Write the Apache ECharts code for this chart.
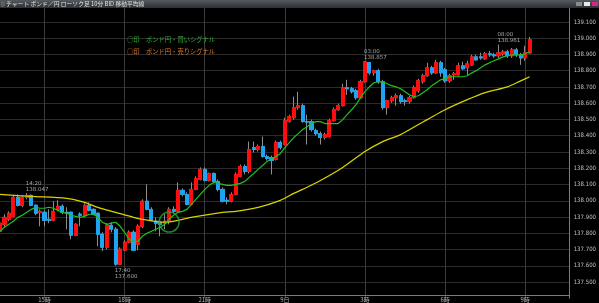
<!DOCTYPE html>
<html><head><meta charset="utf-8">
<script src="https://cdn.jsdelivr.net/npm/echarts@6/dist/echarts.min.js"></script>
<style>html,body{margin:0;padding:0;background:#000;}#c{width:599px;height:303px;}</style>
</head><body><div id="c"></div>
<script>
// ---- data ----
const titleText = 'チャート ポンド／円 ローソク足 10分 BID 移動平均線';
const buyLegend = '○印　ポンド円・買いシグナル';
const sellLegend = '○印　ポンド円・売りシグナル';

// 10-minute categories starting 13:20
const startMinute = 13 * 60 + 20;
const categoryCount = 129;
const categories = [];
for (let i = 0; i < categoryCount; i++) {
  const m = startMinute + i * 10;
  const h = Math.floor(m / 60) % 24, mm = m % 60;
  categories.push(String(h).padStart(2, '0') + ':' + String(mm).padStart(2, '0'));
}
const tickLabels = {'15:00':'15時','18:00':'18時','21:00':'21時','00:00':'9日','03:00':'3時','06:00':'6時','09:00':'9時'};
const yTicks = [137.5,137.6,137.7,137.8,137.9,138.0,138.1,138.2,138.3,138.4,138.5,138.6,138.7,138.8,138.9,139.0,139.1];

const openP = [137.812,137.855,137.886,137.904,138.021,137.972,138.021,138.033,137.972,137.929,
137.929,137.886,137.880,137.947,137.966,137.929,137.929,137.788,137.917,137.911,
137.972,137.947,137.923,137.794,137.714,137.849,137.825,137.610,137.696,137.745,
137.806,137.733,137.843,137.997,137.947,137.874,137.868,137.862,137.874,137.947,
137.935,138.064,138.039,137.978,138.070,138.131,138.193,138.125,138.168,138.119,
138.070,138.003,137.997,138.039,138.150,138.211,138.180,138.327,138.315,138.334,
138.272,138.266,138.254,138.358,138.346,138.487,138.511,138.573,138.585,138.487,
138.487,138.432,138.413,138.389,138.395,138.493,138.560,138.585,138.695,138.689,
138.677,138.634,138.732,138.850,138.787,138.800,138.732,138.573,138.616,138.634,
138.646,138.616,138.610,138.634,138.677,138.732,138.769,138.818,138.787,138.849,
138.806,138.738,138.775,138.775,138.830,138.818,138.836,138.885,138.885,138.873,
138.904,138.898,138.892,138.904,138.916,138.892,138.928,138.898,138.879,138.910];
const closeP = [137.862,137.898,137.923,138.021,137.972,138.021,138.033,137.972,137.923,137.935,
137.880,137.880,137.935,137.966,137.929,137.923,137.788,137.855,137.911,137.972,
137.941,137.917,137.794,137.714,137.849,137.825,137.610,137.702,137.745,137.806,
137.696,137.843,137.997,137.947,137.880,137.862,137.855,137.874,137.947,137.935,
138.064,138.039,137.978,138.070,138.137,138.193,138.125,138.168,138.119,138.070,
137.997,137.997,138.039,138.162,138.211,138.180,138.315,138.315,138.334,138.272,
138.260,138.248,138.358,138.327,138.493,138.518,138.573,138.585,138.487,138.484,
138.438,138.413,138.389,138.407,138.493,138.560,138.585,138.695,138.689,138.671,
138.634,138.732,138.855,138.787,138.800,138.732,138.573,138.616,138.634,138.646,
138.610,138.610,138.634,138.695,138.738,138.769,138.818,138.787,138.849,138.787,
138.738,138.769,138.781,138.830,138.812,138.842,138.885,138.867,138.879,138.904,
138.898,138.892,138.910,138.916,138.892,138.928,138.898,138.879,138.910,138.990];
const lowP = [137.788,137.837,137.874,137.898,137.966,137.960,138.009,137.966,137.911,137.843,
137.843,137.862,137.874,137.935,137.917,137.825,137.763,137.782,137.843,137.898,
137.935,137.911,137.720,137.690,137.702,137.806,137.600,137.604,137.690,137.739,
137.690,137.696,137.831,137.941,137.874,137.812,137.782,137.825,137.855,137.923,
137.923,138.027,137.972,137.972,138.064,138.125,138.119,138.119,138.107,138.058,
137.990,137.978,137.990,138.033,138.144,138.162,138.168,138.297,138.303,138.266,
138.248,138.162,138.248,138.315,138.340,138.481,138.499,138.560,138.481,138.346,
138.426,138.401,138.346,138.377,138.389,138.487,138.554,138.579,138.652,138.659,
138.622,138.628,138.726,138.775,138.769,138.720,138.560,138.530,138.603,138.585,
138.597,138.585,138.597,138.628,138.665,138.720,138.763,138.775,138.781,138.763,
138.726,138.726,138.744,138.769,138.806,138.769,138.830,138.861,138.867,138.867,
138.885,138.879,138.879,138.892,138.879,138.879,138.885,138.836,138.861,138.904];
const highP = [137.880,137.917,137.935,138.033,138.039,138.033,138.047,138.039,137.978,137.947,
137.941,137.947,137.997,138.003,137.978,137.960,137.935,137.862,137.929,137.984,
137.990,137.954,137.929,137.806,137.862,137.868,137.837,137.714,137.757,137.818,
137.818,137.855,138.009,138.101,137.960,137.898,137.880,137.917,137.960,137.966,
138.113,138.076,138.052,138.113,138.150,138.205,138.205,138.174,138.174,138.131,
138.082,138.021,138.052,138.174,138.223,138.223,138.364,138.364,138.346,138.395,
138.285,138.278,138.370,138.370,138.511,138.530,138.640,138.671,138.597,138.530,
138.499,138.444,138.426,138.419,138.505,138.573,138.597,138.720,138.744,138.701,
138.689,138.744,138.857,138.853,138.806,138.812,138.744,138.622,138.646,138.659,
138.659,138.628,138.646,138.708,138.750,138.781,138.849,138.830,138.867,138.861,
138.818,138.781,138.793,138.849,138.855,138.861,138.898,138.898,138.910,138.916,
138.922,138.910,138.961,138.928,138.928,138.940,138.940,138.910,138.953,139.008];

const maShort = [137.812,137.837,137.855,137.874,137.898,137.911,137.929,137.947,137.960,137.954,
137.954,137.960,137.954,137.941,137.929,137.923,137.911,137.904,137.898,137.904,
137.917,137.917,137.898,137.868,137.855,137.862,137.868,137.843,137.806,137.763,
137.751,137.751,137.782,137.800,137.812,137.825,137.837,137.855,137.886,137.911,
137.929,137.935,137.947,137.978,138.009,138.039,138.070,138.095,138.113,138.107,
138.101,138.095,138.095,138.101,138.107,138.119,138.144,138.168,138.193,138.217,
138.242,138.260,138.272,138.291,138.327,138.358,138.389,138.413,138.438,138.456,
138.475,138.487,138.487,138.475,138.475,138.475,138.475,138.499,138.530,138.560,
138.591,138.634,138.671,138.701,138.726,138.732,138.732,138.720,138.708,138.701,
138.689,138.671,138.652,138.640,138.646,138.665,138.683,138.708,138.726,138.744,
138.751,138.763,138.763,138.763,138.763,138.769,138.787,138.800,138.818,138.836,
138.849,138.861,138.873,138.885,138.892,138.898,138.898,138.898,138.904,138.916];

// long moving average, read at these candle positions
const maLongIdx = [0,7,15,19,22,26,30,32,37,43,50,53,58,63,66,68,72,77,82,86,90,94,96,100,105,109,114,117,119];
const maLongVal = [138.039,138.027,138.015,137.990,137.960,137.929,137.898,137.886,137.868,137.898,
137.929,137.935,137.960,138.003,138.045,138.070,138.125,138.205,138.303,138.364,
138.407,138.469,138.499,138.560,138.622,138.665,138.701,138.738,138.763];

const annotTimes = ['14:20','17:40','03:00','08:00'];
const annotPrices = [138.047,137.600,138.857,138.961];
const annotSide = ['top','bottom','top','top'];
const buySignalTime = '19:40';
const buySignalPrice = 137.869;

// ---- build ----
const ohlc = openP.map((o,i)=>[o, closeP[i], lowP[i], highP[i]]);
const bodies = openP.map((o,i)=>[o, closeP[i], Math.min(o,closeP[i]), Math.max(o,closeP[i])]);
const maLong = openP.map(()=>null);
maLongIdx.forEach((ix,k)=>{ maLong[ix] = maLongVal[k]; });

const annotData = annotTimes.map((t,k)=>({
  value:[categories.indexOf(t), annotPrices[k]],
  label:{
    show:true,
    formatter: t + '\n' + annotPrices[k].toFixed(3),
    position: annotSide[k]==='top' ? [-1,-13] : [-1,2],
    align:'left', verticalAlign:'top',
    color:'#c8c8c8', fontSize:5.5, lineHeight:6, fontFamily:'DejaVu Sans'
  }
}));

const chart = echarts.init(document.getElementById('c'), null, {renderer:'canvas'});
chart.setOption({
  backgroundColor:'#000',
  animation:false,
  grid:{left:0, right:21, top:5.7, bottom:3.7},
  xAxis:{
    type:'category', data:categories, boundaryGap:false, offset:-3.3,
    axisLine:{show:true, lineStyle:{color:'#7a7a7a', width:1}},
    axisTick:{show:false},
    axisLabel:{interval:(i,v)=>v in tickLabels, formatter:v=>tickLabels[v]||'', color:'#b0b0b0', fontSize:6, margin:2, fontFamily:'Noto Sans CJK JP'},
    splitLine:{show:true, interval:(i,v)=>v in tickLabels, lineStyle:{color:'#3c3c3c', width:1}}
  },
  yAxis:{
    type:'value', position:'right', min:137.4, max:139.2, interval:0.1, scale:true,
    axisLine:{show:true, lineStyle:{color:'#7a7a7a', width:1}},
    axisTick:{show:false},
    axisLabel:{color:'#c0c0c0', fontSize:6, margin:4, showMinLabel:false, showMaxLabel:false,
      formatter:v=> yTicks.some(t=>Math.abs(t-v)<1e-6) ? v.toFixed(3) : '', fontFamily:'DejaVu Sans Condensed'},
    splitLine:{show:true, showMinLine:false, showMaxLine:false, lineStyle:{color:'#2c2c2c', width:1}}
  },
  series:[
    {type:'candlestick', data:ohlc, barWidth:3.6, z:2,
     itemStyle:{color:'transparent', color0:'transparent', borderColor:'#8e8e8e', borderColor0:'#8e8e8e', borderWidth:1}},
    {type:'candlestick', data:bodies, barWidth:3.6, z:3,
     itemStyle:{color:'#ff0d0d', color0:'#1ea4f2', borderColor:'#ff0d0d', borderColor0:'#1ea4f2', borderWidth:1}},
    {type:'line', data:maLong, connectNulls:true, smooth:0.3, symbol:'none', z:4,
     lineStyle:{color:'#d8d200', width:1.3}},
    {type:'line', data:maShort, symbol:'none', z:5,
     lineStyle:{color:'#1fc01f', width:1.2}},
    {type:'scatter', data:annotData, symbolSize:0, z:6, silent:true},
    {type:'scatter', data:[[categories.indexOf(buySignalTime), buySignalPrice]], symbol:'circle', symbolSize:20, z:7,
     itemStyle:{color:'transparent', borderColor:'#27a53a', borderWidth:1.5}}
  ],
  graphic:[
    {type:'rect', left:0, top:0, z:100, shape:{width:599, height:8},
     style:{fill:new echarts.graphic.LinearGradient(0,0,0,1,[{offset:0,color:'#555a60'},{offset:1,color:'#2c3035'}])}},
    {type:'rect', left:1, top:2, z:101, shape:{width:3, height:4}, style:{fill:'#555', stroke:'#888', lineWidth:0.5}},
    {type:'text', left:6, top:0.5, z:101, style:{text:titleText, fill:'#e0e0e0', fontSize:5.8, fontFamily:'Noto Sans CJK JP'}},
    {type:'rect', left:576, top:2, z:101, shape:{width:6, height:4}, style:{fill:'#8a8a8a'}},
    {type:'rect', left:584, top:2, z:101, shape:{width:6, height:4}, style:{fill:'#e8e8e8'}},
    {type:'rect', left:592, top:2, z:101, shape:{width:6, height:4}, style:{fill:'#e0208c'}},
    {type:'text', left:127, top:36.5, z:101, style:{text:buyLegend, fill:'#2fb52f', fontSize:6.3, fontFamily:'Noto Sans CJK JP'}},
    {type:'text', left:127, top:48.5, z:101, style:{text:sellLegend, fill:'#e3782a', fontSize:6.3, fontFamily:'Noto Sans CJK JP'}}
  ]
});
</script></body></html>
